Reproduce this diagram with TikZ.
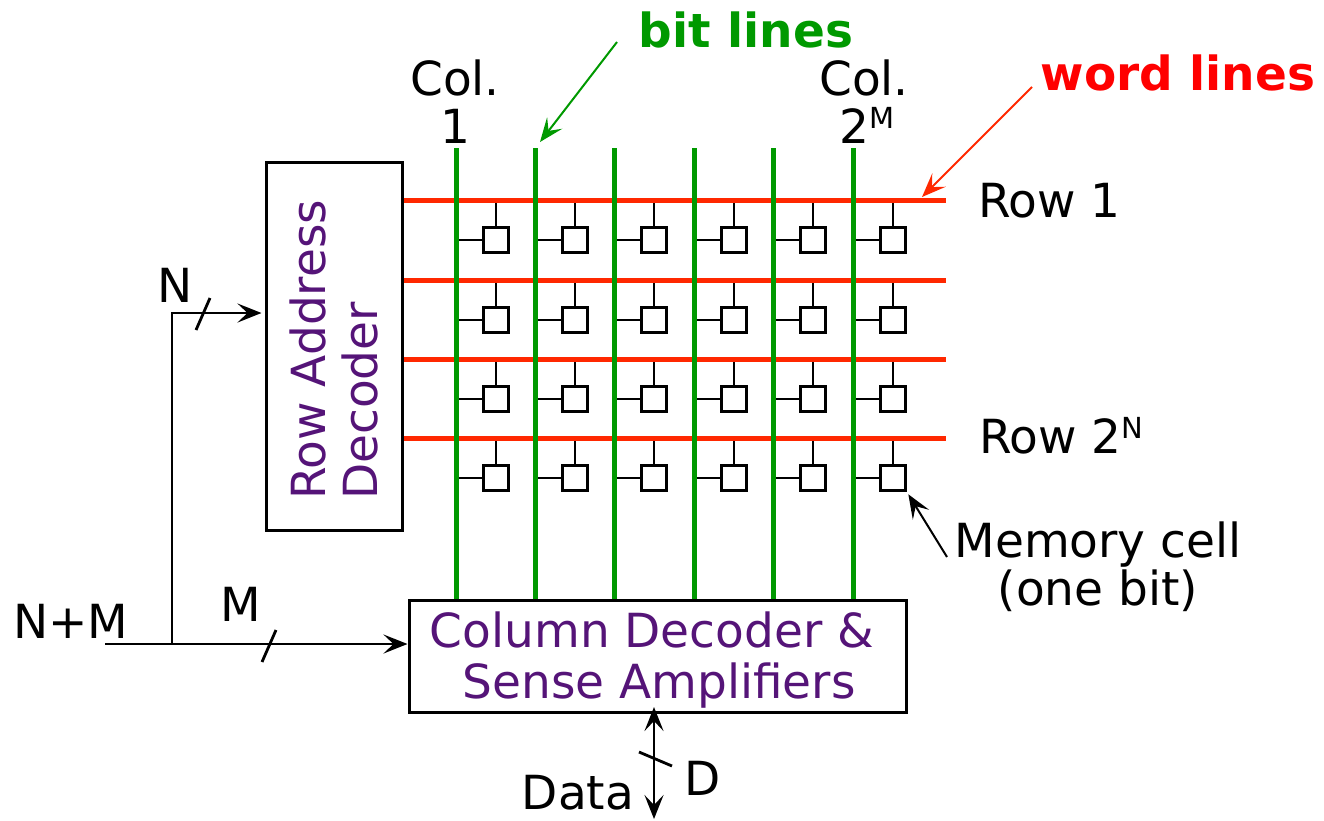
\documentclass[tikz,border=0pt]{standalone}
\usepackage{fontspec}
\setmainfont{DejaVu Sans}
\usetikzlibrary{arrows.meta}
\definecolor{wred}{RGB}{255,40,0}
\definecolor{tred}{RGB}{255,0,0}
\definecolor{bgreen}{RGB}{0,153,0}
\definecolor{dpurple}{RGB}{85,20,120}
\newcommand{\supsc}[1]{\raisebox{15pt}{\fontsize{29}{29}\selectfont #1}}
\begin{document}
\begin{tikzpicture}[x=1pt,y=-1pt,
  txt/.style={font=\fontsize{47}{50}\selectfont, inner sep=0pt},
  boldtxt/.style={font=\fontsize{47}{50}\selectfont\bfseries, inner sep=0pt},
  box/.style={draw, line width=3pt, inner sep=0pt},
  wline/.style={wred, line width=5pt},
  bline/.style={bgreen, line width=5pt},
  wire/.style={line width=2.8pt},
  stub/.style={line width=2.5pt},
  thinarrow/.style={line width=2pt},
  cell/.style={draw, line width=2.5pt, minimum size=25pt, inner sep=0pt},
  tip/.style={-{Stealth[length=24pt,width=19pt,inset=10pt]}},
  tipboth/.style={{Stealth[length=24pt,width=19pt,inset=10pt]}-{Stealth[length=24pt,width=19pt,inset=10pt]}},
  ]
\useasboundingbox (0,0) rectangle (1324,820);

% boxes
\node[box, minimum width=136pt, minimum height=368pt] (rad) at (334,346) {};
\node[box, minimum width=497pt, minimum height=112pt] (cdec) at (657.5,656) {};

% row decoder text
\node[txt, text=dpurple, rotate=90, anchor=base west] (rad1) at (325,500) {Row Address};
\node[txt, text=dpurple, rotate=90, anchor=base west] (rad2) at (377,500) {Decoder};
% column decoder text
\node[txt, text=dpurple, anchor=base] (cd1) at (652,647) {Column Decoder \&};
\node[txt, text=dpurple, anchor=base] (cd2) at (659,698) {Sense Amplifiers};

% word line coordinates
\foreach \yy [count=\i] in {200,280,359,438}{
  \coordinate (wl-\i) at (402,\yy);
  \coordinate (wr-\i) at (946,\yy);
}
% bit line coordinates
\foreach \xx [count=\j] in {456,535,614,694,773,853}{
  \coordinate (bt-\j) at (\xx,148);
}

% cells
\foreach \yy [count=\i] in {200,280,359,438}{
  \foreach \xx [count=\j] in {456,535,614,694,773,853}{
    \node[cell] (c-\i-\j) at (\xx+40,\yy+40) {};
    \draw[stub] (c-\i-\j.north) -- (c-\i-\j.north |- wl-\i);
    \draw[stub] (c-\i-\j.west) -- (bt-\j |- c-\i-\j.west);
  }
}

% word lines
\foreach \i in {1,...,4}{
  \draw[wline] (rad.east |- wl-\i) -- (wr-\i);
}
% bit lines
\foreach \j in {1,...,6}{
  \draw[bline] (bt-\j) -- (bt-\j |- cdec.north);
}

% column labels
\node[txt, anchor=base] (col1a) at (455,95) {Col.};
\node[txt, anchor=base] (col1b) at (455,143) {1};
\node[txt, anchor=base] (colMa) at (864,95) {Col.};
\node[txt, anchor=base] (colMb) at (867,143) {2\supsc{M}};

% row labels
\node[txt, anchor=base west] (row1) at (978,217) {Row 1};
\node[txt, anchor=base west] (rowN) at (979,453) {Row 2\supsc{N}};

% bit lines / word lines labels
\node[boldtxt, text=bgreen, anchor=base] (bitlbl) at (746,47) {bit lines};
\node[boldtxt, text=tred, anchor=base] (wordlbl) at (1178,90) {word lines};
\coordinate (btail) at (617,42);
\coordinate (btip) at (540,142);
\draw[thinarrow, bgreen, tip] (btail) -- (btip);
\coordinate (wtail) at (1032,87);
\coordinate (wtip) at (922,197);
\draw[thinarrow, wred, tip] (wtail) -- (wtip);

% memory cell label
\node[txt, anchor=base] (mem1) at (1098,557) {Memory cell};
\node[txt, anchor=base] (mem2) at (1098,605) {(one bit)};
\coordinate (mtail) at (947,557);
\draw[thinarrow, tip, shorten >=3pt] (mtail) -- (c-4-6.south east);

% address inputs
\coordinate (nin) at (105,644);
\coordinate (jn) at (172,644);
\coordinate (nc) at (172,313);
\draw[wire, tip] (nin) -- (cdec.west |- nin);
\draw[wire, tip, shorten >=3pt] (jn) -- (nc) -- (rad.west |- nc);
\draw[wire] (196,330) -- (210,298);
\draw[wire] (262,662) -- (276,630);
\node[txt, anchor=base] (nlbl) at (175,302) {N};
\node[txt, anchor=base] (nmlbl) at (71,638) {N+M};
\node[txt, anchor=base] (mlbl) at (241,621) {M};

% data
\coordinate (dtop) at (654,707);
\coordinate (dbot) at (654,819);
\draw[wire, tipboth] (dbot) -- (dtop);
\draw[wire] (639,752) -- (672,766);
\node[txt, anchor=base] (dlbl) at (703,795) {D};
\node[txt, anchor=base] (datalbl) at (578,809) {Data};
\end{tikzpicture}
\end{document}
